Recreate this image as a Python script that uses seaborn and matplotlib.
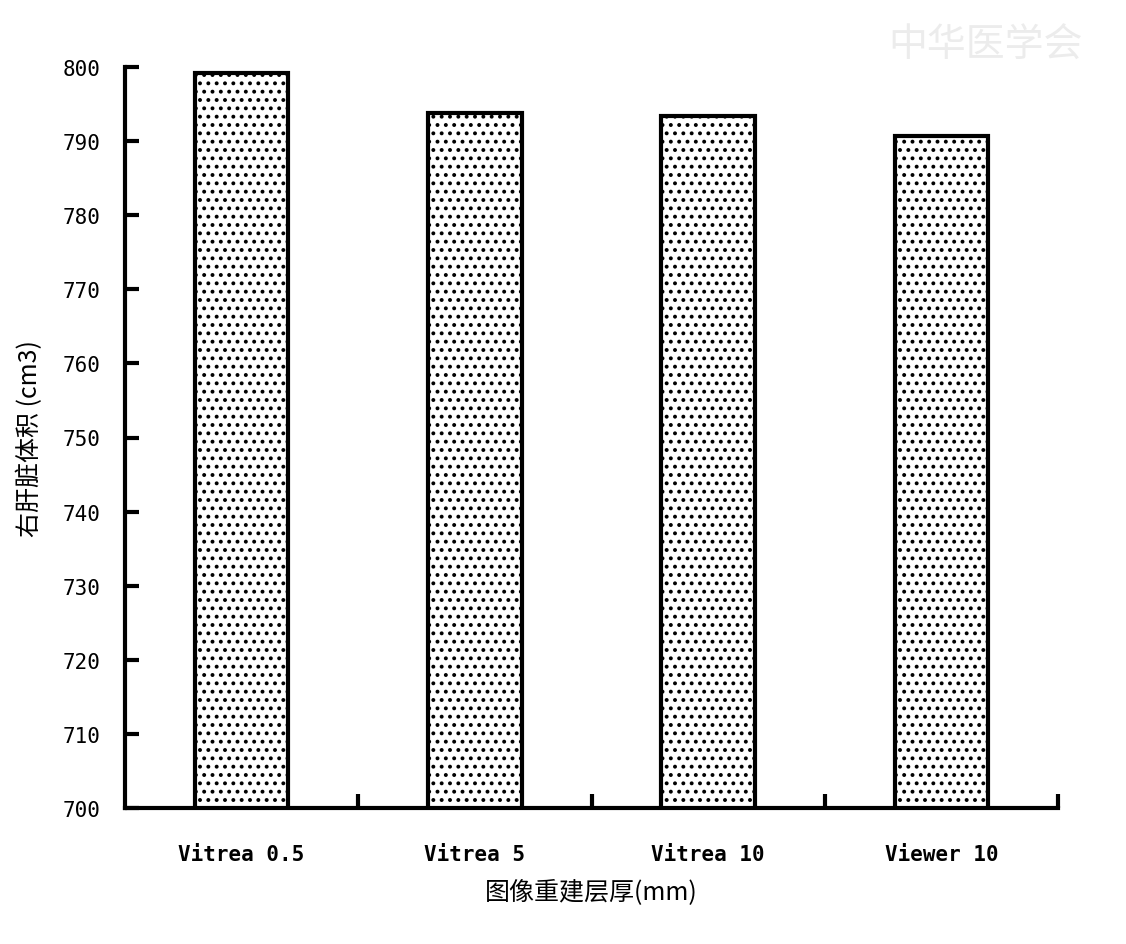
import numpy as np
import pandas as pd
import seaborn as sns
import matplotlib
matplotlib.use("Agg")
import matplotlib.pyplot as plt

categories = ["Vitrea 0.5", "Vitrea 5", "Vitrea 10", "Viewer 10"]
volumes = [799.2, 793.8, 793.4, 790.7]
y_ticks = list(range(700, 801, 10))

sns.set_theme(style="white")
plt.rcParams['font.family'] = ['Noto Sans CJK SC', 'DejaVu Sans']
plt.rcParams['hatch.linewidth'] = 1.6
plt.rcParams['text.color'] = 'black'
plt.rcParams['axes.labelcolor'] = 'black'

df = pd.DataFrame({"method": categories, "volume": volumes})

fig = plt.figure(figsize=(11.26, 9.45), dpi=100)
ax = fig.add_axes([125 / 1126, 1 - 809 / 945, (1058 - 125) / 1126, (809 - 68) / 945])

sns.barplot(data=df, x="method", y="volume", color="white", edgecolor="black",
            linewidth=3, width=0.4, ax=ax, saturation=1)
for p in ax.patches:
    p.set_hatch("..")
    p.set_facecolor("white")
    p.set_edgecolor("black")

ax.set_xlim(-0.5, 3.5)
ax.set_ylim(700, 800)
ax.set_yticks(y_ticks)
ax.set_yticklabels([str(t) for t in y_ticks], fontsize=15, family='DejaVu Sans Mono')
ax.set_xticks([0.5, 1.5, 2.5, 3.5], minor=False)
ax.set_xticklabels([])
ax.set_xticks(range(4), minor=True)
ax.set_xticklabels(categories, minor=True, fontsize=15, family='DejaVu Sans Mono', fontweight='bold')
ax.tick_params(axis='x', which='major', direction='in', length=10, width=3, colors='black', bottom=True)
ax.tick_params(axis='x', which='minor', length=0, pad=26, bottom=False, labelcolor='black')
ax.tick_params(axis='y', direction='in', length=10, width=3, pad=18, colors='black', left=True)

for side in ["top", "right"]:
    ax.spines[side].set_visible(False)
for side in ["left", "bottom"]:
    ax.spines[side].set_linewidth(3)
    ax.spines[side].set_color("black")

ax.set_xlabel("图像重建层厚(mm)", fontsize=18, labelpad=10, color='black')
ax.set_ylabel("右肝脏体积 (cm3)", fontsize=18, labelpad=14, color='black')
ax.grid(False)

fig.text(0.875, 0.952, "中华医学会", fontsize=28, color="#ececec", ha="center", va="center",
         style="italic")

fig.savefig("out.png", dpi=100, facecolor="white")
